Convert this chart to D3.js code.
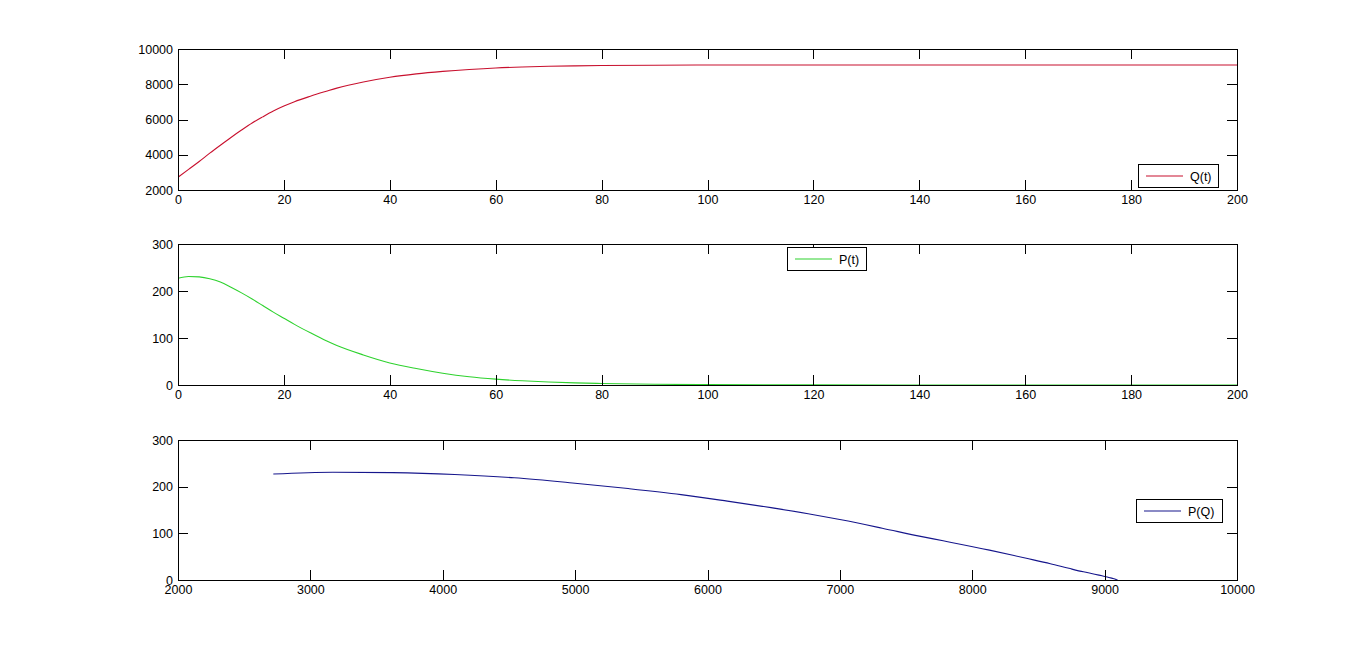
<!DOCTYPE html>
<html><head><meta charset="utf-8">
<script src="https://cdn.jsdelivr.net/npm/d3@7"></script>
<style>
html,body{margin:0;padding:0;background:#fff;}
svg{display:block;font-family:"Liberation Sans",Arial,sans-serif;}
</style></head>
<body>
<svg id="chart" width="1367" height="652"></svg>
<script>
// ---- data ----
const tValues = [0,2,4,6,8,10,12,14,16,18,20,22,25,28,30,35,40,45,50,55,60,65,70,75,80,90,100,120,140,160,180,200];
const qValues = [2720,3170,3620,4090,4540,4980,5400,5800,6150,6480,6760,7010,7320,7600,7780,8130,8400,8590,8730,8840,8925,8980,9020,9045,9063,9082,9090,9094,9095,9095,9095,9095];
const pValues = [227,231,230,226,219,208,196,183,169,155,142,129,111,94,84,64,47,35,25,17.5,12.5,9,6.5,4.5,3.3,1.6,0.8,0.2,0.05,0,0,0];

const tTicks = [0,20,40,60,80,100,120,140,160,180,200];
const qTicks = [2000,4000,6000,8000,10000];
const pTicks = [0,100,200,300];
const qxTicks = [2000,3000,4000,5000,6000,7000,8000,9000,10000];

const legendQt = "Q(t)", legendPt = "P(t)", legendPQ = "P(Q)";

// ---- layout ----
const svg = d3.select("#chart");
const L = 178, R = 1237;
const panels = [
  {top:49, bottom:190, xDomain:[0,200], yDomain:[2000,10000], xTicks:tTicks, yTicks:qTicks,
   pts: tValues.map((t,i)=>[t,qValues[i]]), color:"#c8102e", label:legendQt,
   legend:{x:1138,y:164,w:80,h:23}},
  {top:244, bottom:385, xDomain:[0,200], yDomain:[0,300], xTicks:tTicks, yTicks:pTicks,
   pts: tValues.map((t,i)=>[t,pValues[i]]), color:"#2ed22e", label:legendPt,
   legend:{x:787,y:247,w:79,h:23}},
  {top:440, bottom:580, xDomain:[2000,10000], yDomain:[0,300], xTicks:qxTicks, yTicks:pTicks,
   pts: qValues.map((q,i)=>[q,pValues[i]]), color:"#16168c", label:legendPQ,
   legend:{x:1136,y:499,w:86,h:23}}
];

const TL = 10;
panels.forEach(p => {
  const x = d3.scaleLinear().domain(p.xDomain).range([L,R]);
  const y = d3.scaleLinear().domain(p.yDomain).range([p.bottom,p.top]);
  const g = svg.append("g");

  const cid = "clip" + p.top;
  svg.append("clipPath").attr("id",cid).append("rect")
     .attr("x",L).attr("y",p.top-1).attr("width",R-L).attr("height",p.bottom-p.top+2);
  g.append("path").datum(p.pts)
    .attr("clip-path",`url(#${cid})`)
    .attr("fill","none").attr("stroke",p.color).attr("stroke-width",1.1)
    .attr("d", d3.line().x(d=>x(d[0])).y(d=>y(d[1])).curve(d3.curveMonotoneX));

  const ax = g.append("g").attr("shape-rendering","crispEdges");
  const bottom = d3.axisBottom(x).tickValues(p.xTicks).tickSizeInner(-TL).tickSizeOuter(0).tickFormat(d3.format("d")).tickPadding(5);
  const top = d3.axisTop(x).tickValues(p.xTicks).tickSizeInner(-TL).tickSizeOuter(0).tickFormat("");
  const left = d3.axisLeft(y).tickValues(p.yTicks).tickSizeInner(-TL).tickSizeOuter(0).tickFormat(d3.format("d")).tickPadding(5);
  const right = d3.axisRight(y).tickValues(p.yTicks).tickSizeInner(-TL).tickSizeOuter(0).tickFormat("");
  [[bottom,`translate(0,${p.bottom})`],[top,`translate(0,${p.top})`],
   [left,`translate(${L},0)`],[right,`translate(${R},0)`]].forEach(([a,tr])=>{
    const s = ax.append("g").attr("transform",tr).call(a);
    s.selectAll("path.domain").attr("stroke","#000");
    s.selectAll(".tick line").attr("stroke","#000");
    s.selectAll("text").attr("font-size","12.5px").attr("fill","#000")
      .attr("font-family","'Liberation Sans',Arial,sans-serif");
  });

  const lg = g.append("g");
  lg.append("rect").attr("x",p.legend.x+0.5).attr("y",p.legend.y+0.5)
    .attr("width",p.legend.w).attr("height",p.legend.h)
    .attr("fill","#fff").attr("stroke","#000").attr("stroke-width",1);
  const ly = p.legend.y + p.legend.h/2 + 0.5;
  lg.append("line").attr("x1",p.legend.x+8).attr("x2",p.legend.x+45)
    .attr("y1",ly).attr("y2",ly).attr("stroke",p.color).attr("stroke-width",1.1);
  lg.append("text").attr("x",p.legend.x+52).attr("y",ly).attr("dy","0.36em")
    .attr("font-size","12.5px").attr("fill","#000").text(p.label);
});
</script>
</body></html>
